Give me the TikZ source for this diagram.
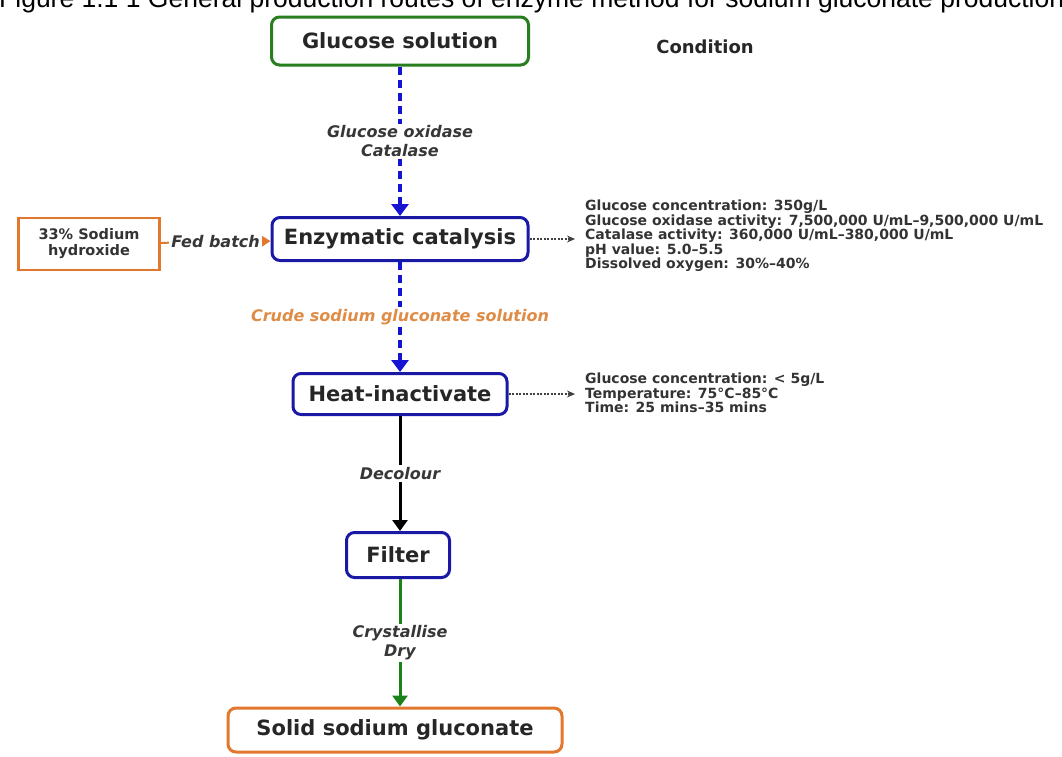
\documentclass[tikz,border=0pt]{standalone}
\usepackage{fontspec}
\setmainfont{DejaVu Sans}
\newfontfamily\titlefont{Liberation Sans}
\usetikzlibrary{arrows.meta}

\definecolor{boxgreen}{RGB}{40,125,30}
\definecolor{boxblue}{RGB}{25,25,165}
\definecolor{boxorange}{RGB}{225,120,45}
\definecolor{flowblue}{RGB}{20,20,210}
\definecolor{flowgreen}{RGB}{25,130,25}
\definecolor{lblgray}{RGB}{55,55,55}
\definecolor{crudeorange}{RGB}{222,140,70}

\tikzset{
  stepbox/.style={draw, rounded corners=8pt, line width=3pt, fill=white, inner sep=0,
    text=black!85, font=\bfseries\fontsize{21}{24}\selectfont},
  feedbox/.style={draw=boxorange, line width=2.5pt, fill=white, inner sep=0, align=center,
    text=black!80, font=\bfseries\fontsize{14.5}{16}\selectfont},
  lbl/.style={fill=white, inner sep=2pt, align=center, text=lblgray,
    font=\bfseries\itshape\fontsize{16}{18.5}\selectfont},
  cond/.style={anchor=west, inner sep=0, align=left, text=black!80,
    font=\bfseries\fontsize{14}{14.5}\selectfont},
  flowdash/.style={draw=flowblue, line width=3.5pt, dash pattern=on 8pt off 5pt,
    ->, >={Triangle[width=17pt,length=12pt]}},
  flowline/.style={line width=3pt, ->, >={Triangle[width=15pt,length=11pt]}},
  condarrow/.style={draw=black!75, line width=1.2pt, dash pattern=on 2pt off 1.5pt, ->,
    >={Stealth[length=8pt,width=7pt]}, shorten >=10pt}
}

\begin{document}
\begin{tikzpicture}[x=1pt, y=-1pt]
\useasboundingbox (0,0) rectangle (1062,756);
% title, cut by the page edge
\node[anchor=base west, inner sep=0, font=\titlefont\fontsize{26.5}{28}\selectfont] (title) at (-1,7)
  {Figure 1.1 1 General production routes of enzyme method for sodium gluconate production};

% process steps
\node[stepbox, draw=boxgreen, minimum width=257pt, minimum height=48pt] (gluc) at (400,41) {Glucose solution};
\node[stepbox, draw=boxblue, minimum width=256pt, minimum height=43pt] (enz) at (400,239) {Enzymatic catalysis};
\node[stepbox, draw=boxblue, minimum width=214pt, minimum height=41pt] (heat) at (400,394) {Heat-inactivate};
\node[stepbox, draw=boxblue, minimum width=103pt, minimum height=45pt] (filt) at (398,555) {Filter};
\node[stepbox, draw=boxorange, minimum width=334pt, minimum height=44pt] (solid) at (395,730) {Solid sodium gluconate};
\node[feedbox, minimum width=141pt, minimum height=52pt] (naoh) at (89,244) {33\% Sodium\\hydroxide};

% conditions
\node[font=\bfseries\fontsize{18}{20}\selectfont, text=black!85] (condtitle) at (705,47) {Condition};
\node[cond] (condenz) at (585,236) {Glucose concentration: 350g/L\\
  Glucose oxidase activity: 7,500,000 U/mL–9,500,000 U/mL\\
  Catalase activity: 360,000 U/mL–380,000 U/mL\\
  pH value: 5.0–5.5\\
  Dissolved oxygen: 30\%–40\%};
\node[cond] (condheat) at (585,393) {Glucose concentration: < 5g/L\\
  Temperature: 75°C–85°C\\
  Time: 25 mins–35 mins};

% flow
\draw[flowdash] (gluc) -- node[lbl] {Glucose oxidase\\Catalase} (enz);
\draw[flowdash] (enz) -- node[lbl, text=crudeorange] {Crude sodium gluconate solution} (heat);
\draw[flowline, black] (heat) -- node[lbl] {Decolour} (filt.north -| heat.south);
\draw[flowline, flowgreen] (filt.south -| heat.south) -- node[lbl] {Crystallise\\Dry} (solid.north -| heat.south);
\draw[draw=boxorange, line width=2pt, ->, >={Triangle[width=11pt,length=9pt]}] (naoh) -- node[lbl, fill=white] {Fed batch} (enz);
\draw[condarrow] (enz.east) -- (enz.east -| condenz.west);
\draw[condarrow] (heat.east) -- (heat.east -| condheat.west);
\end{tikzpicture}
\end{document}
